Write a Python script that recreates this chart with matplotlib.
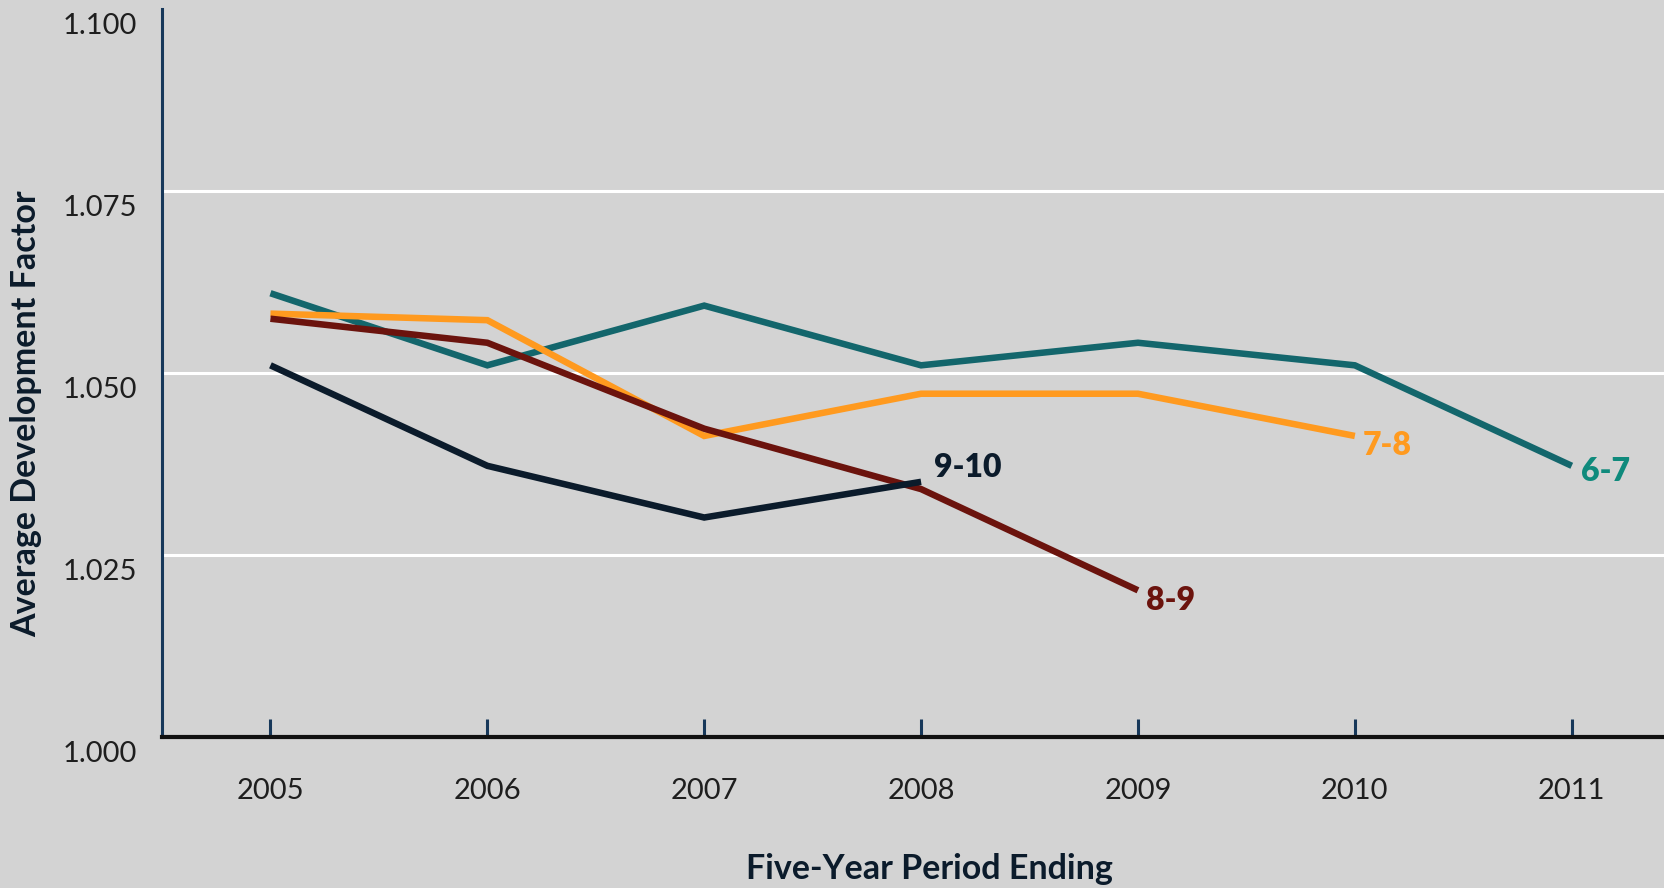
import matplotlib
matplotlib.use("Agg")
import matplotlib.pyplot as plt
import matplotlib.transforms as mtransforms

# Data
years = [2005, 2006, 2007, 2008, 2009, 2010, 2011]
dev_6_7 = [1.0609, 1.0510, 1.0592, 1.0510, 1.0541, 1.0510, 1.0372]
dev_7_8 = [1.0581, 1.0572, 1.0413, 1.0471, 1.0471, 1.0413]
dev_8_9 = [1.0574, 1.0541, 1.0423, 1.0340, 1.0201]
dev_9_10 = [1.0510, 1.0372, 1.0301, 1.0350]

series = [
    ("6-7", dev_6_7, "#13666c", "#0f8a7c", (7, -4)),
    ("7-8", dev_7_8, "#ff9a1f", "#ff9a1f", (6, -7)),
    ("8-9", dev_8_9, "#6b130d", "#6b130d", (6, -7)),
    ("9-10", dev_9_10, "#0b1b2b", "#0b1b2b", (9, 10)),
]

y_ticks = [1.000, 1.025, 1.050, 1.075, 1.100]

plt.rcParams["font.family"] = ["Lato", "DejaVu Sans"]

bg = "#d3d3d3"
fig = plt.figure(figsize=(16.65, 8.88), dpi=100, facecolor=bg)
ax = fig.add_axes([0.0973, 0.1704, 0.9027, 0.82])
ax.set_facecolor(bg)

# Grid lines
for v in y_ticks[1:-1]:
    ax.axhline(v, color="white", lw=2.2, zorder=1)

# Lines and end labels
for name, vals, lc, tc, off in series:
    xs = years[:len(vals)]
    ax.plot(xs, vals, color=lc, lw=4.7, solid_capstyle="butt",
            solid_joinstyle="miter", zorder=3)
    ax.annotate(name, xy=(xs[-1], vals[-1]), xytext=off,
                textcoords="offset points", ha="left", va="center",
                fontsize=23, fontweight="heavy", color=tc, zorder=4)

ax.set_xlim(2004.5, 2011.43)
ax.set_ylim(1.000, 1.100)
ax.set_xticks(years)
ax.set_yticks(y_ticks)
ax.set_yticklabels([f"{v:.3f}" for v in y_ticks])

for s in ["top", "right"]:
    ax.spines[s].set_visible(False)
ax.spines["left"].set_color("#17385a")
ax.spines["left"].set_linewidth(2.2)
ax.spines["bottom"].set_color("#111111")
ax.spines["bottom"].set_linewidth(3)

ax.tick_params(axis="x", direction="in", length=13, width=2.2,
               color="#17385a", labelsize=21, labelcolor="#1e1e1e", pad=30)
ax.tick_params(axis="y", length=0, labelsize=21, labelcolor="#1e1e1e", pad=18)

# shift y tick labels a little below their grid lines
offset = mtransforms.ScaledTranslation(0, -15 / 100, fig.dpi_scale_trans)
for lab in ax.get_yticklabels():
    lab.set_transform(lab.get_transform() + offset)

fig.text(0.558, 0.021, "Five-Year Period Ending", ha="center", va="center",
         fontsize=24.5, fontweight="bold", color="#0b1b2b")
fig.text(0.016, 0.534, "Average Development Factor", ha="center", va="center",
         rotation=90, fontsize=24.5, fontweight="bold", color="#0b1b2b")

fig.savefig("out.png", dpi=100, facecolor=bg)
